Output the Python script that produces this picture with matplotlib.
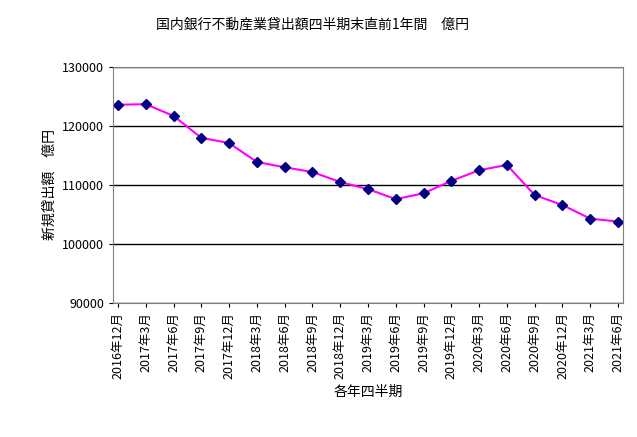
import matplotlib
matplotlib.use("Agg")
import matplotlib.pyplot as plt

plt.rcParams["font.family"] = ["Noto Sans CJK JP", "DejaVu Sans"]

labels = ["2016年12月","2017年3月","2017年6月","2017年9月","2017年12月","2018年3月","2018年6月",
          "2018年9月","2018年12月","2019年3月","2019年6月","2019年9月","2019年12月","2020年3月",
          "2020年6月","2020年9月","2020年12月","2021年3月","2021年6月"]
values = [123600,123700,121700,118000,117100,113900,113000,112200,110500,109300,107600,
          108600,110700,112500,113400,108300,106600,104300,103800]

fig = plt.figure(figsize=(6.37,4.37), dpi=100)
ax = fig.add_axes([113/637, 1-303/437, 510/637, 236/437])
x = range(len(values))
ax.plot(x, values, color="#ff00ff", lw=1.5, marker="D", ms=5.5,
        markerfacecolor="#000080", markeredgecolor="#000080")
ax.set_xlim(-0.18, len(values)-1+0.18)
ax.set_ylim(90000, 130000)
ax.set_yticks(range(90000, 130001, 10000))
ax.yaxis.grid(True, color="black", lw=1)
ax.set_xticks(list(x))
ax.set_xticklabels(labels, rotation=90, fontsize=9)
ax.tick_params(axis="y", labelsize=9)
ax.tick_params(length=3)
for s in ax.spines.values():
    s.set_color("#808080")
ax.set_ylabel("新規貸出額　億円", fontsize=10)
ax.set_xlabel("各年四半期", fontsize=10)
fig.text(0.49, 1-25/437, "国内銀行不動産業貸出額四半期末直前1年間　億円", ha="center", va="center", fontsize=10)
fig.savefig("out.png", dpi=100)
